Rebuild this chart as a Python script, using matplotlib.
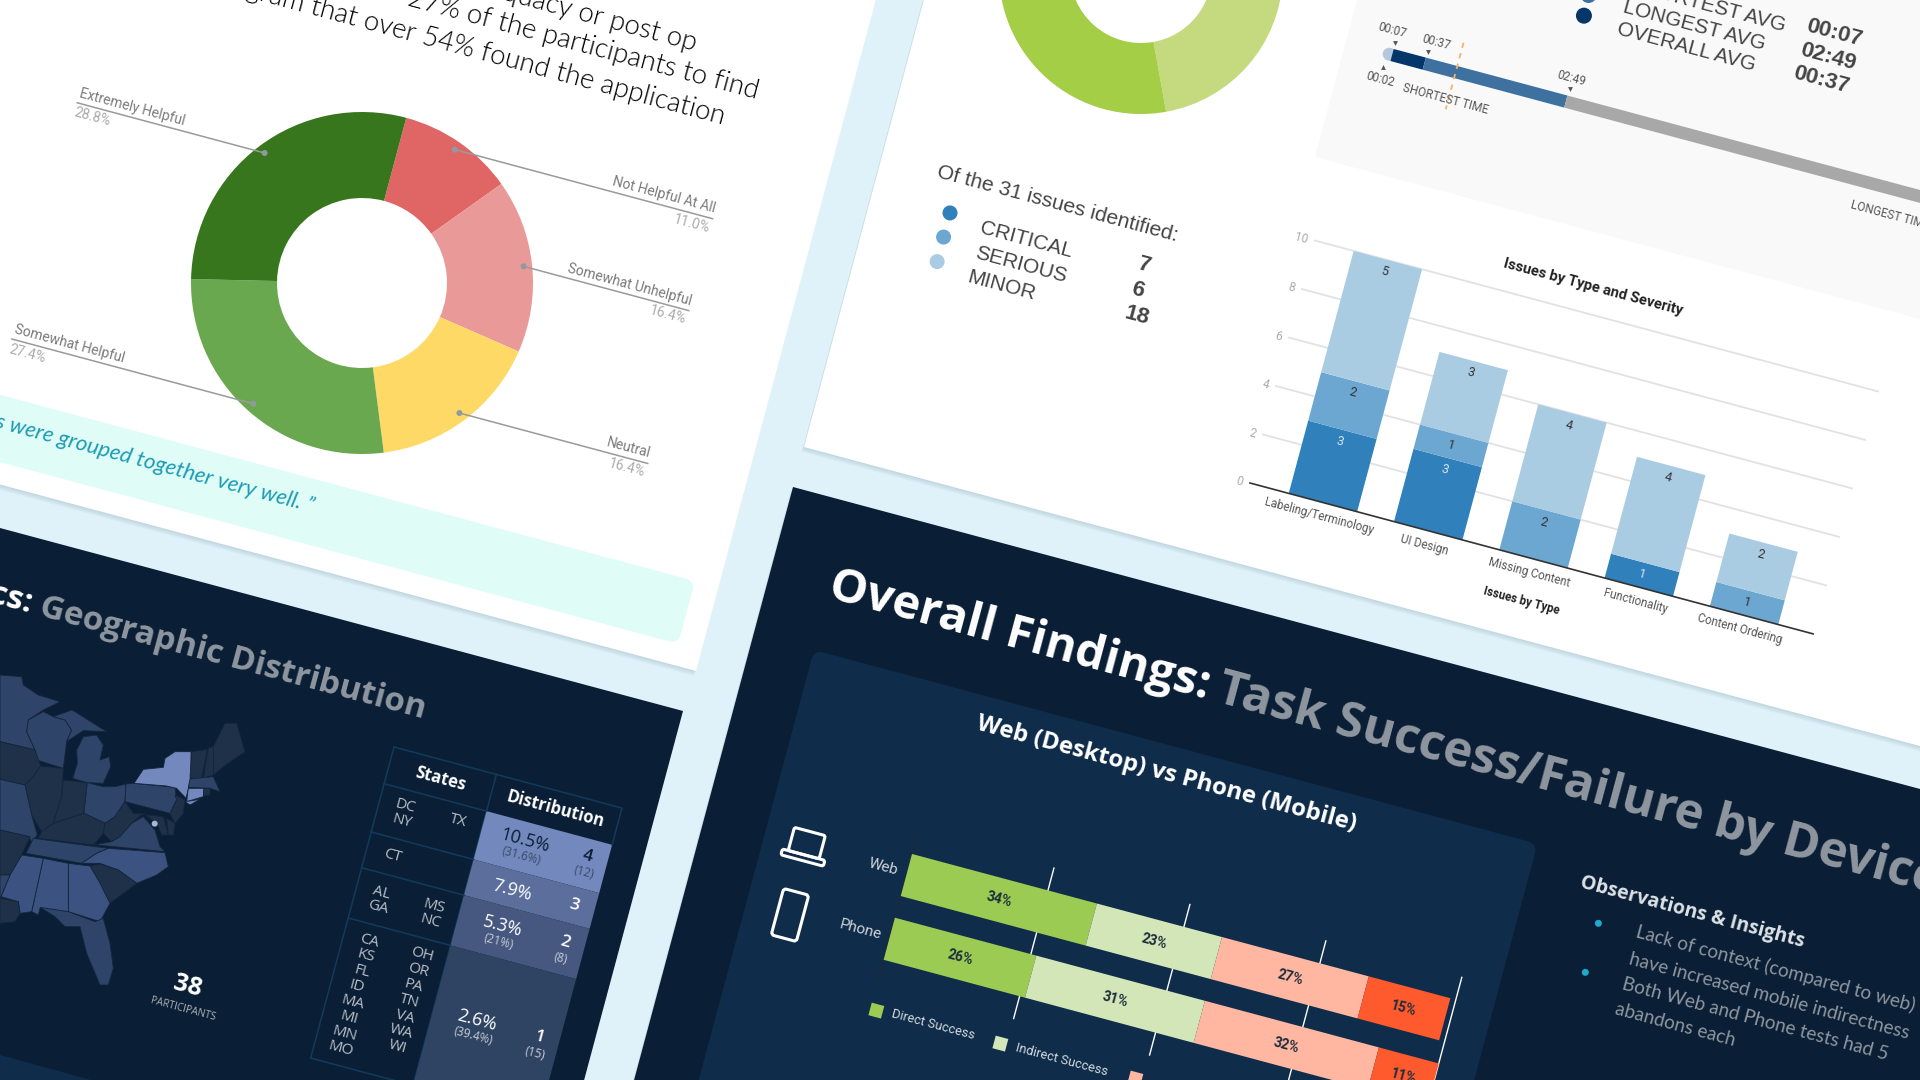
import numpy as np
import matplotlib
matplotlib.use("Agg")
import matplotlib.pyplot as plt
from matplotlib.patches import Polygon, Rectangle, Circle, FancyBboxPatch
from matplotlib.transforms import Affine2D

ANG = 15
# ---------- data ----------
help_labels = ["Not Helpful At All", "Somewhat Unhelpful", "Neutral", "Somewhat Helpful", "Extremely Helpful"]
help_values = [11.0, 16.4, 16.4, 27.4, 28.8]
help_colors = ["#E06666", "#EA9999", "#FFD966", "#6AA84F", "#38761D"]
green_values = [43, 57]
green_colors = ["#C5D97E", "#A5CE47"]

issue_types = ["Labeling/Terminology", "UI Design", "Missing Content", "Functionality", "Content Ordering"]
critical = [3, 3, 0, 1, 0]
serious = [2, 1, 2, 0, 1]
minor = [5, 3, 4, 4, 2]
issue_ticks = [0, 2, 4, 6, 8, 10]
issue_summary = [("CRITICAL", 7), ("SERIOUS", 6), ("MINOR", 18)]

time_edges = [2, 7, 37, 169, 700]
time_colors = ["#B4C7DC", "#04366A", "#3F71A0", "#A8A8A8"]

devices = ["Web", "Phone"]
outcomes = ["Direct Success", "Indirect Success", "Indirect Failure", "Failure"]
outcome_colors = ["#9CCB53", "#D2E6B7", "#FFB7A2", "#FF5A2E"]
web_share = [34, 23, 27, 15]
phone_share = [26, 31, 32, 11]

dist_pct = ["10.5%", "7.9%", "5.3%", "2.6%"]
dist_pct_sub = ["(31.6%)", "", "(21%)", "(39.4%)"]
dist_n = ["4", "3", "2", "1"]
dist_n_sub = ["(12)", "", "(8)", "(15)"]
dist_colors = ["#7388BC", "#5C6E9C", "#46587F", "#2F4363"]

# ---------- canvas ----------
BG = "#DFF2F9"; NAVY = "#0A1F35"; CARD = "#0F2D4A"
fig = plt.figure(figsize=(19.2, 10.8), dpi=100, facecolor=BG)
ax = fig.add_axes([0, 0, 1, 1])
ax.set_facecolor(BG)

ca, sa = np.cos(np.radians(ANG)), np.sin(np.radians(ANG))
def loc(ox, oy, u, v):
    return ox + u * ca - v * sa, oy + u * sa + v * ca
def frame(ox, oy, sx=1, sy=1, dx=0, dy=0):
    return Affine2D().scale(sx, sy).translate(dx, dy).rotate_deg(ANG).translate(ox, oy) + ax.transData
def rot_poly(ox, oy, u0, v0, u1, v1, color, z, alpha=1.0):
    pts = [loc(ox, oy, u, v) for u, v in [(u0, v0), (u1, v0), (u1, v1), (u0, v1)]]
    ax.add_patch(Polygon(pts, closed=True, fc=color, ec="none", zorder=z, alpha=alpha))
def panel(ox, oy, u0, v0, u1, v1, color, z=1):
    for k in (1, 2, 3, 4):
        rot_poly(ox - 0.6 * k, oy + 1.2 * k, u0, v0, u1, v1, "#52727F", z, alpha=0.05)
    rot_poly(ox, oy, u0, v0, u1, v1, color, z + 0.1)
def T(x, y, s, size=10, color="#333333", ha="center", va="center", weight="normal",
      family="Roboto", style="normal", tf=None, z=8):
    kw = {"transform": tf} if tf is not None else {}
    return ax.text(x, y, s, fontsize=size, color=color, ha=ha, va=va, fontweight=weight,
                   family=family, fontstyle=style, rotation=-ANG, rotation_mode="anchor", zorder=z, **kw)
Z2 = lambda a, b: (800 + a / 1.4, b / 2.24)
Z3 = lambda a, b: (a / 2.24, 540 + b / 2.904)
Z4 = lambda a, b: (640 + a / 1.225, 560 + b / 3)
Z5 = lambda a, b: (a / 3, 660 + b / 3)
Z7 = lambda a, b: (1360 + a / 2.8, b / 3)

# ---------- donuts ----------
C1 = (362, 283); R1 = 171
ax.pie(help_values, colors=help_colors, startangle=-75, counterclock=True, center=C1, radius=R1,
       wedgeprops=dict(width=86, linewidth=0, zorder=3))
C2 = (1141, -28); R2 = 142
ax.pie(green_values, colors=green_colors, startangle=-75, counterclock=True, center=C2, radius=R2,
       wedgeprops=dict(width=71, linewidth=0, zorder=3))
ax.set_xlim(0, 1920); ax.set_ylim(1080, 0); ax.set_aspect("auto")
ax.set_autoscale_on(False); ax.axis("off")

# ---------- panels ----------
panel(696, 671, -1600, -1000, 0, 0, "#FFFFFF")
panel(804, 447, 0, -1000, 1600, 0, "#FFFFFF")
panel(683, 711, -1600, 0, 0, 1000, NAVY)
panel(793, 487, 0, 0, 1700, 1200, NAVY)

# ---------- panel 1 ----------
for s, xy in [("care adequacy or post op", (694, 51)),
              ("27% of the participants to find", (756, 99)),
              ("the program that over 54% found the application", (723, 125))]:
    T(xy[0], xy[1], s, size=19.8, color="#000000", ha="right", va="baseline", family="Lato", weight=300)
ax.add_patch(FancyBboxPatch((-1000, 0), 1000, 65, boxstyle="round,pad=0,rounding_size=10",
                            fc="#DFFCF7", ec="none", zorder=2, transform=frame(695, 581)))
T(314, 507, "Categories were grouped together very well. \u201d", size=16, color="#1C9CB4",
  ha="right", family="Lato", style="italic")

line_len = [267, 171, 195, -250, -194]
cum = np.cumsum([0] + help_values)
for i, (lab, val) in enumerate(zip(help_labels, help_values)):
    a = np.radians(ANG + (cum[i] + val / 2) * 3.6)
    dx, dy = C1[0] + 0.95 * R1 * np.sin(a), C1[1] - 0.95 * R1 * np.cos(a)
    ex, ey = loc(dx, dy, line_len[i], 0)
    ax.plot([dx, ex], [dy, ey], color="#9A9A9A", lw=1.1, zorder=5)
    ax.add_patch(Circle((dx, dy), 3, fc="#8E9AA0", ec="none", zorder=6))
    ha = "right" if line_len[i] > 0 else "left"
    tx, ty = loc(ex, ey, 0, -10)
    T(tx, ty, lab, size=10, color="#7A7A7A", ha=ha)
    px, py = loc(ex, ey, 0, 10)
    T(px, py, f"{val:.1f}%", size=10, color="#ABABAB", ha=ha)

# ---------- panel 2: summary ----------
T(*Z2(193, 385), "Of the 31 issues identified:", size=15.2, color="#444444", ha="left", family="Liberation Sans")
sum_colors = ["#2F80BB", "#6BA7D0", "#AACCE3"]
for i, (name, n) in enumerate(issue_summary):
    ax.add_patch(Circle(Z2([210, 201, 192][i], [477, 531, 586][i]), 7.5, fc=sum_colors[i], ec="none", zorder=5))
    T(*Z2([252, 245, 235][i], [510, 565, 620][i]), name, size=15, color="#444444", ha="left", family="Liberation Sans")
    T(*Z2([482, 472, 472][i], [595, 650, 708][i]), str(n), size=16, color="#444444", weight="bold", family="Liberation Sans")

# gray timing box
rot_poly(1315, 157, 0, -400, 1100, 0, "#F9F9F9", 2)
TF_T = frame(1384.6, 53, sx=1.11)
ax.add_patch(Circle(loc(1384.6, 53, 4 * 1.11, 0), 6.2, fc=time_colors[0], ec="none", zorder=3))
left = np.array(time_edges[:-1]); width = np.diff(time_edges)
ax.barh([0] * 4, width, left=left, height=12.5, color=time_colors, transform=TF_T, zorder=4, linewidth=0)
ax.plot(*zip(Z7(290, 128), Z7(240, 328)), color="#F6B26B", lw=1.3, ls=(0, (3, 3)), zorder=5)
for s, p in [("00:07", (90, 92)), ("00:37", (215, 127)), ("02:49", (592, 235)), ("00:02", (57, 237)),
             ("SHORTEST TIME", (240, 297))]:
    T(*Z7(*p), s, size=8.5, color="#555555")
T(*Z7(1375, 615), "LONGEST TIME", size=8.5, color="#555555", ha="left")
for p, m in [((98, 130), "v"), ((190, 155), "v"), ((587, 268), "v"), ((63, 200), "^")]:
    ax.plot(*Z7(*p), marker=m, ms=3.5, color="#555555", mew=0, zorder=6)
for s, p in [("SHORTEST AVG", (756, -45)), ("LONGEST AVG", (738, 20)), ("OVERALL AVG", (722, 85))]:
    T(*Z7(*p), s, size=15, color="#444444", ha="left", family="Liberation Sans")
for s, p in [("00:07", (1328, 100)), ("02:49", (1310, 172)), ("00:37", (1292, 240))]:
    T(*Z7(*p), s, size=16, color="#444444", weight="bold", family="Liberation Sans")
ax.add_patch(Circle(Z7(627, 47), 8, fc="#04366A", ec="none", zorder=5))
ax.add_patch(Circle(Z7(640, -15), 8, fc="#3F71A0", ec="none", zorder=5))

# issues chart
SX, SY, DX = 109, -25.1, 75.5
TF_I = frame(1250, 483, sx=SX, sy=SY, dx=DX)
x0, x1 = -DX / SX, (583 - DX) / SX
for t in issue_ticks:
    ax.plot([x0, x1], [t, t], color="#E2E2E2" if t else "#333333", lw=1.3 if t else 1.2, transform=TF_I, zorder=3 if t else 5)
    T((-7 - DX) / SX, t - 0.05, str(t), size=8.5, color="#AAAAAA", ha="right", tf=TF_I)
xs = np.arange(len(issue_types))
bottom = np.zeros(len(xs))
for vals, col, tc in [(critical, sum_colors[0], "#D5E6F2"), (serious, sum_colors[1], "#333333"), (minor, sum_colors[2], "#333333")]:
    ax.bar(xs, vals, 0.65, bottom=bottom, color=col, transform=TF_I, zorder=4, linewidth=0)
    for x, v, b in zip(xs, vals, bottom):
        if v:
            T(x, b + v - 0.48, str(v), size=9, color=tc, tf=TF_I)
    bottom = bottom + np.array(vals)
for x, s in zip(xs, issue_types):
    T(x, -0.58, s, size=8.4, color="#555555", tf=TF_I)
T(*Z2(1110, 643), "Issues by Type and Severity", size=10.6, color="#222222", weight="bold")
T(*Z2(1010, 1345), "Issues by Type", size=8.4, color="#222222", weight="bold")

# ---------- panel 3 ----------
px, py = Z3(90, 195)
T(px, py, "Geographic Distribution", size=24, color="#8F96A0", ha="left", weight="bold", family="Open Sans")
qx, qy = loc(px, py, -9, 0)
T(qx, qy, "Demographics:", size=24, color="#FFFFFF", ha="right", weight="bold", family="Open Sans")

M = "#2E4468"; D = "#1E3149"; N = "#3C5280"; L = "#7388BC"
states = {
 "MN": (M, [(0,45),(65,50),(70,75),(115,105),(180,125),(130,150),(85,180),(80,215),(105,270),(0,245)]),
 "WI": (M, [(85,180),(130,155),(160,170),(195,180),(215,210),(200,245),(190,325),(110,300),(105,270),(80,215)]),
 "UP": (M, [(160,170),(215,150),(225,155),(320,215),(250,212),(215,235),(200,245),(215,210),(195,180)]),
 "MI": (M, [(218,355),(232,310),(230,270),(250,230),(290,225),(310,255),(300,300),(328,290),(332,320),(310,370),(262,368)]),
 "IA": (D, [(0,245),(105,270),(122,318),(100,350),(75,375),(0,358)]),
 "IL": (D, [(122,318),(190,325),(185,410),(160,490),(125,515),(95,465),(75,375),(100,350)]),
 "MO": (M, [(0,358),(75,375),(95,465),(112,525),(95,545),(85,530),(0,510)]),
 "IN": (D, [(190,360),(262,368),(252,460),(160,490),(185,410)]),
 "OH": (M, [(262,368),(310,380),(345,380),(378,372),(375,425),(345,470),(315,490),(252,460)]),
 "KY": (D, [(125,515),(160,490),(252,460),(315,490),(310,520),(280,555),(115,535)]),
 "TN": (M, [(100,535),(325,565),(290,580),(245,610),(78,580)]),
 "WV": (D, [(315,490),(345,470),(375,425),(400,460),(430,460),(395,490),(360,530),(335,545),(310,520)]),
 "VA": (M, [(280,555),(335,545),(360,530),(395,490),(430,470),(465,510),(480,560),(495,575),(290,555)]),
 "PA": (M, [(378,372),(400,370),(525,382),(530,420),(510,460),(375,425)]),
 "NY": (L, [(402,370),(430,328),(490,322),(495,295),(525,275),(573,275),(573,355),(558,415),(530,385),(500,378)]),
 "NJ": (D, [(525,405),(555,420),(550,460),(525,490),(510,460),(530,420)]),
 "MD": (D, [(400,460),(490,470),(505,525),(485,525),(470,490),(430,460)]),
 "DE": (D, [(500,475),(525,490),(520,525),(505,525)]),
 "NC": (N, [(245,610),(290,580),(325,565),(495,578),(505,620),(470,645),(410,670),(355,630),(300,610)]),
 "SC": (D, [(270,618),(300,612),(355,630),(410,670),(330,730),(300,670)]),
 "GA": (N, [(205,610),(270,618),(300,670),(330,730),(300,785),(205,755)]),
 "AL": (N, [(130,595),(205,610),(205,755),(120,745),(115,765),(95,755)]),
 "MS": (N, [(65,585),(130,595),(95,755),(60,760),(55,725),(3,710),(30,645)]),
 "FL": (M, [(120,742),(205,755),(285,785),(310,775),(330,850),(340,925),(325,975),(300,975),(260,880),(240,800),(195,800),(165,770)]),
 "LA": (D, [(0,715),(55,725),(60,760),(45,785),(0,790)]),
 "AR": (D, [(0,510),(90,530),(65,585),(30,645),(0,645)]),
 "OK": (M, [(0,645),(30,645),(3,710),(0,715)]),
 "ME": (D, [(640,260),(675,190),(710,190),(735,275),(670,320),(640,345)]),
 "NH": (D, [(625,265),(640,260),(640,345),(610,355)]),
 "VT": (D, [(575,275),(622,268),(605,355),(570,355)]),
 "MA": (M, [(570,357),(640,350),(660,395),(630,385),(565,382)]),
 "CT": (L, [(565,385),(612,385),(610,410),(560,425)]),
 "RI": (D, [(612,385),(630,385),(630,405),(610,408)]),
 "LI": (L, [(555,425),(600,418),(570,435)]),
}
for col, pts in states.values():
    ax.add_patch(Polygon([Z5(*p) for p in pts], closed=True, fc=col, ec="#14263E", lw=0.6, zorder=3))
ax.add_patch(Circle(Z5(464, 491), 3, fc="#A8B6D8", ec="none", zorder=4))
ax.add_patch(Polygon([Z5(0, 1185), Z5(280, 1262), Z5(0, 1262)], closed=True, fc=CARD, ec="none", zorder=3))
T(*Z3(420, 1296), "38", size=18, color="#FFFFFF", weight="bold", family="Open Sans")
T(*Z3(410, 1362), "PARTICIPANTS", size=7.2, color="#AEB4BD", family="Open Sans")

# table
TAB = (394, 747)
col_w = [106, 130]
edges = [0, 38, 88, 125, 177, 322]
tt = frame(*TAB)
for i, c in enumerate(dist_colors):
    ax.add_patch(Rectangle((col_w[0], edges[i + 1]), col_w[1], edges[i + 2] - edges[i + 1], fc=c, ec="none", zorder=4, transform=tt))
LC = "#123A5C"
for e in edges:
    ax.plot([0, col_w[0]], [e, e], color=LC, lw=1.1, transform=tt, zorder=5)
ax.plot([0, 0], [0, edges[-1]], color=LC, lw=1.1, transform=tt, zorder=5)
ax.plot([col_w[0], col_w[0]], [0, edges[-1]], color=LC, lw=1.1, transform=tt, zorder=3.5)
ax.plot([col_w[0], sum(col_w), sum(col_w)], [0, 0, edges[1]], color=LC, lw=1.1, transform=tt, zorder=5)
T(*Z3(988, 693), "States", size=12, color="#FFFFFF", weight="bold", family="Open Sans")
T(*Z3(1243, 782), "Distribution", size=12, color="#FFFFFF", weight="bold", family="Open Sans")
state_cells = {"DC": (908,772), "NY": (900,818), "TX": (1025,815), "CT": (880,917), "AL": (855,1024), "GA": (847,1068),
               "MS": (973,1063), "NC": (965,1108), "CA": (828,1165), "KS": (819,1209), "FL": (810,1253), "ID": (800,1297),
               "MA": (790,1343), "MI": (782,1387), "MN": (773,1433), "MO": (764,1477), "OH": (945,1205), "OR": (936,1250),
               "PA": (926,1294), "TN": (917,1338), "VA": (908,1384), "WA": (898,1428), "WI": (890,1472)}
for s, p in state_cells.items():
    T(*Z3(*p), s, size=11, color="#B9BFC8", family="Open Sans")
pct_pos = [(1177,872), (1147,1018), (1125,1122), (1068,1395)]
sub_pos = [(1168,918), None, (1117,1165), (1060,1440)]
n_pos = [(1316,920), (1287,1062), (1265,1170), (1208,1445)]
nsub_pos = [(1307,965), None, (1256,1214), (1198,1490)]
for i in range(4):
    c = "#0A1F35" if i == 0 else "#FFFFFF"
    c2 = "#3A4A6B" if i == 0 else "#C9CFDA"
    T(*Z3(*pct_pos[i]), dist_pct[i], size=13, color=c, family="Open Sans")
    T(*Z3(*n_pos[i]), dist_n[i], size=12.5, color=c, family="Open Sans", weight=600)
    if sub_pos[i]:
        T(*Z3(*sub_pos[i]), dist_pct_sub[i], size=8.5, color=c2, family="Open Sans")
        T(*Z3(*nsub_pos[i]), dist_n_sub[i], size=8.5, color=c2, family="Open Sans")

# ---------- panel 4 ----------
wx, wy = 830, 585
T(wx, wy, "Overall Findings:", size=34, color="#FFFFFF", ha="left", weight="bold", family="Open Sans")
gx, gy = loc(wx, wy, 402, 0)
T(gx, gy, "Task Success/Failure by Device", size=35.5, color="#8F96A0", ha="left", weight="bold", family="Open Sans")
ax.add_patch(FancyBboxPatch((0, 0), 749, 700, boxstyle="round,pad=0,rounding_size=10",
                            fc=CARD, ec="none", zorder=2, transform=frame(814, 650)))
T(1167, 774, "Web (Desktop) vs Phone (Mobile)", size=17.3, color="#FFFFFF", weight="bold", family="Open Sans")

PX = 5.63
TF_B = frame(912, 854, sx=PX, sy=66, dy=21.75)
ys = np.arange(len(devices))
for g in [25, 50, 75, 100]:
    ax.plot([g, g], [-0.68, 1.68], color="#FFFFFF", lw=1.0, transform=TF_B, zorder=3)
ax.plot([0, 0], [-0.68, 1.68], color="#1C2A38", lw=1.0, transform=TF_B, zorder=3)
shares = np.array([web_share, phone_share])
lefts = np.zeros(2)
for j, col in enumerate(outcome_colors):
    ax.barh(ys, shares[:, j], 0.66, left=lefts, color=col, transform=TF_B, zorder=4, linewidth=0)
    for y in ys:
        T(lefts[y] + shares[y, j] / 2, y, f"{shares[y, j]}%", size=10, color="#1D2C3C", weight="bold", tf=TF_B)
    lefts = lefts + shares[:, j]
for y, s in zip(ys, devices):
    T(-1.6, y - 0.02, s, size=11, color="#D0D5DA", ha="right", tf=TF_B)
leg_sq = [(876, 1010), (1000, 1043), (1135, 1078)]
leg_tx = [(933, 1025), (1062, 1060), (1205, 1100)]
for j in range(3):
    ax.add_patch(Rectangle((-6, -6), 13, 13, fc=outcome_colors[j], ec="none", zorder=5, transform=frame(*leg_sq[j])))
    T(*leg_tx[j], outcomes[j], size=9.3, color="#D6DBE0")

# icons
ic = dict(fc="none", ec="#FFFFFF", lw=2.2, zorder=6)
ax.add_patch(FancyBboxPatch((-16, -15), 32, 24, boxstyle="round,pad=0,rounding_size=2", transform=frame(806, 846), **ic))
ax.add_patch(FancyBboxPatch((-22, 9), 44, 6, boxstyle="round,pad=0,rounding_size=2", transform=frame(806, 846), **ic))
ax.add_patch(FancyBboxPatch((-13, -24), 26, 48, boxstyle="round,pad=0,rounding_size=3", transform=frame(790, 915), **ic))

T(1692, 912, "Observations & Insights", size=14, color="#DDE2E7", weight="bold", family="Open Sans")
for p in [(1174, 1090), (1158, 1237)]:
    ax.add_patch(Circle(Z4(*p), 3.5, fc="#22A8CC", ec="none", zorder=6))
for s, p in [("Lack of context (compared to web)", (1220, 1115)),
             ("have increased mobile indirectness", (1212, 1195)),
             ("Both Web and Phone tests had 5", (1203, 1270)),
             ("abandons each", (1195, 1345))]:
    T(*Z4(*p), s, size=13.6, color="#8F96A0", ha="left", family="Lato")

fig.savefig("out.png", dpi=100, facecolor=BG)
